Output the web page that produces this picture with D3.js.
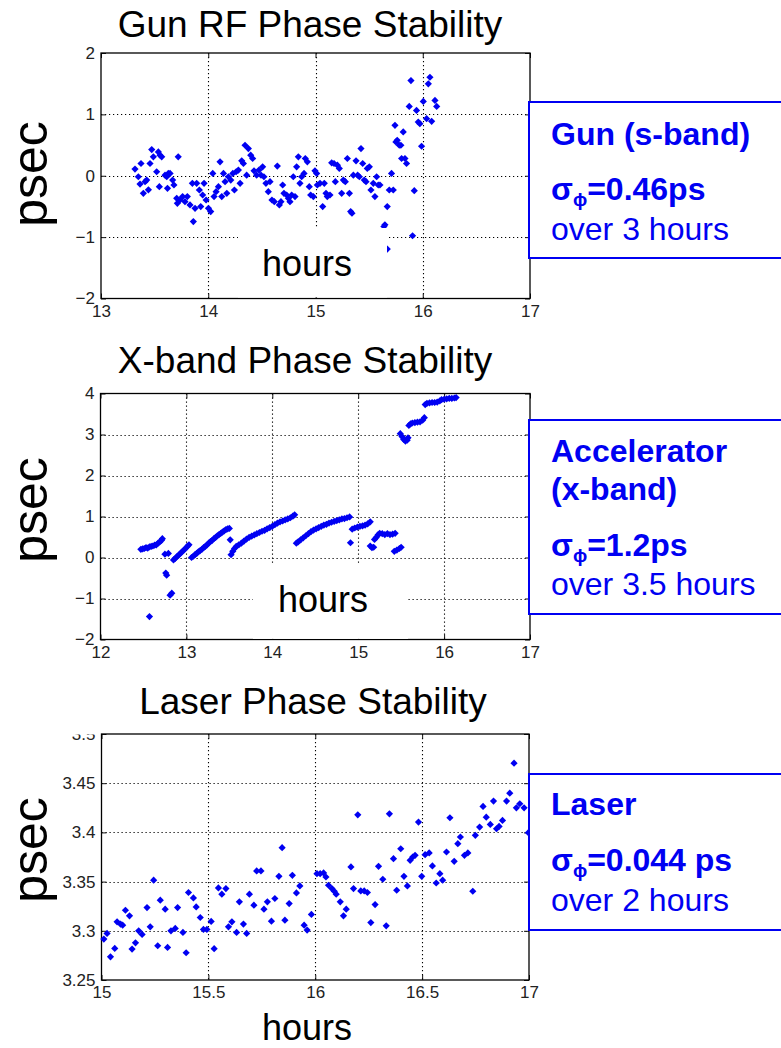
<!DOCTYPE html>
<html>
<head>
<meta charset="utf-8">
<script src="https://cdn.jsdelivr.net/npm/d3@7"></script>
<style>
  body { margin: 0; background: #fff; }
  svg { display: block; }
  text { font-family: "Liberation Sans", Arial, Helvetica, sans-serif; }
</style>
</head>
<body>
<svg id="chart" width="781" height="1048"></svg>
<script>
// ---- Gun RF phase (s-band), psec vs hours ----
const gunHours = [
  13.317,13.348,13.373,13.364,13.395,13.411,13.426,13.442,13.457,13.473,13.488,13.519,13.535,13.55,13.544,13.566,
  13.597,13.613,13.628,13.62,13.644,13.668,13.68,13.706,13.712,13.72,13.737,13.761,13.783,13.805,13.83,13.852,
  13.861,13.877,13.892,13.917,13.93,13.948,13.961,13.98,14.002,14.023,14.042,14.054,14.073,14.095,14.11,14.126,
  14.142,14.157,14.173,14.188,14.21,14.229,14.244,14.26,14.281,14.297,14.312,14.328,14.343,14.358,14.374,14.396,
  14.414,14.427,14.451,14.473,14.492,14.507,14.519,14.538,14.56,14.576,14.594,14.616,14.644,14.663,14.678,14.694,
  14.706,14.731,14.747,14.762,14.778,14.793,14.809,14.824,14.84,14.855,14.871,14.893,14.905,14.924,14.942,14.955,
  14.98,14.995,15.011,15.017,15.042,15.067,15.082,15.098,15.11,15.135,15.151,15.173,15.185,15.204,15.222,15.244,
  15.26,15.278,15.297,15.316,15.328,15.34,15.353,15.378,15.393,15.409,15.424,15.44,15.455,15.471,15.483,15.502,
  15.517,15.539,15.554,15.57,15.585,15.601,15.638,15.647,15.669,15.669,15.688,15.709,15.725,15.741,15.75,15.762,
  15.781,15.796,15.803,15.818,15.834,15.849,15.874,15.89,15.905,15.921,15.942,15.958,15.973,15.989,16.005,16.036,
  16.052,16.067,16.083,16.114,16.13
];
const gunPsec = [
  0.108,-0.016,0.2,-0.135,-0.286,-0.097,-0.07,-0.23,0.2,0.427,0.308,0.065,0.389,0.335,-0.178,0.308,
  0.01,-0.016,0.038,-0.205,0.038,-0.07,-0.151,-0.368,-0.449,0.308,-0.395,-0.34,-0.422,-0.34,-0.476,-0.124,
  -0.746,-0.53,-0.124,-0.232,-0.503,-0.314,-0.124,-0.395,-0.53,-0.584,0.038,-0.34,-0.259,-0.178,0.227,-0.34,
  0.038,-0.097,-0.286,-0.016,-0.07,0.038,-0.232,0.065,0.092,-0.124,0.243,0.2,0.497,0.01,0.443,0.335,
  0.281,0.081,0.01,0.092,0.01,0.146,-0.016,-0.124,-0.259,-0.097,-0.395,-0.422,0.157,-0.476,-0.422,-0.151,
  -0.286,-0.314,-0.368,-0.422,-0.314,-0.016,-0.34,0.146,0.308,-0.124,-0.016,0.038,0.281,0.227,-0.178,-0.314,
  -0.34,0.081,0.038,-0.151,-0.124,-0.503,-0.124,-0.286,-0.34,-0.314,0.211,0.2,-0.097,0.173,0.119,-0.286,
  -0.07,-0.097,0.281,-0.286,-0.584,-0.611,0.01,0.243,0.01,-0.016,0.443,0.2,-0.07,-0.097,0.119,0.146,
  -0.232,-0.124,-0.34,-0.016,-0.151,-0.151,-0.827,-0.8,-0.503,-1.195,-0.232,0.038,-0.232,0.822,0.551,0.578,
  0.497,0.497,0.281,0.714,0.281,0.2,1.13,1.551,-0.978,-0.243,1.065,0.876,0.849,0.481,1.211,0.93,
  1.497,1.605,0.886,1.227,1.13
];
const gunXTicks = [13, 14, 15, 16, 17];
const gunYTicks = [-2, -1, 0, 1, 2];

// ---- X-band accelerator phase, psec vs hours ----
const xbandHours = [
  12.47,12.49,12.51,12.53,12.55,12.57,12.59,12.61,12.63,12.65,12.67,12.69,12.71,12.72,
  12.57,12.75,12.79,12.76,12.77,12.81,12.83,
  12.85,12.87,12.89,12.91,12.93,12.95,12.97,12.99,13.01,13.03,
  13.06,13.08,13.10,13.12,13.14,13.16,13.18,13.20,13.22,13.24,13.26,13.28,13.30,13.32,13.34,13.36,13.38,13.40,13.42,13.44,13.46,13.48,13.50,
  13.51,
  13.52,13.54,13.56,13.58,13.61,13.64,13.67,13.70,13.73,13.76,13.79,13.82,13.85,13.88,13.91,13.94,13.97,14.00,14.03,14.06,14.09,14.12,14.15,14.18,14.21,14.24,14.26,
  14.28,14.30,14.33,14.36,14.39,14.42,14.45,14.48,14.51,14.54,14.57,14.60,14.63,14.66,14.69,14.72,14.75,14.78,14.81,14.84,14.87,14.90,
  14.91,
  14.93,14.96,14.99,15.02,15.05,15.08,15.11,15.14,
  15.14,15.16,15.18,
  15.19,15.21,15.23,15.25,15.28,15.31,15.34,15.37,15.40,15.43,
  15.42,15.45,15.48,15.50,
  15.49,15.51,15.53,15.55,15.57,15.58,
  15.59,15.61,15.63,15.66,15.69,15.72,15.75,15.77,
  15.78,15.80,15.83,15.86,15.89,15.92,15.95,
  15.97,16.00,16.03,16.06,16.09,16.12,16.14
];
const xbandPsec = [
  0.20,0.21,0.22,0.24,0.23,0.26,0.27,0.28,0.30,0.31,0.35,0.38,0.42,0.46,
  -1.44,0.08,0.10,-0.38,-0.43,-0.92,-0.87,
  -0.06,-0.02,0.02,0.06,0.10,0.14,0.18,0.22,0.27,0.31,
  0.00,0.03,0.07,0.10,0.14,0.17,0.20,0.24,0.27,0.31,0.35,0.39,0.42,0.46,0.49,0.53,0.56,0.59,0.62,0.65,0.68,0.70,0.71,
  0.43,
  0.07,0.15,0.22,0.27,0.31,0.35,0.40,0.45,0.49,0.52,0.55,0.58,0.61,0.64,0.66,0.70,0.73,0.76,0.80,0.84,0.87,0.89,0.92,0.94,0.97,1.01,1.04,
  0.35,0.38,0.43,0.48,0.53,0.58,0.63,0.67,0.70,0.73,0.76,0.79,0.81,0.84,0.86,0.88,0.90,0.92,0.94,0.95,0.97,0.99,
  0.36,
  0.69,0.72,0.74,0.76,0.77,0.79,0.82,0.87,
  0.28,0.24,0.25,
  0.44,0.49,0.55,0.59,0.58,0.56,0.58,0.56,0.57,0.59,
  0.15,0.18,0.22,0.25,
  3.02,2.95,2.88,2.84,2.86,2.92,
  3.22,3.26,3.28,3.29,3.30,3.31,3.35,3.41,
  3.73,3.76,3.77,3.78,3.78,3.79,3.82,
  3.85,3.86,3.87,3.88,3.88,3.89,3.90
];
const xbandXTicks = [12, 13, 14, 15, 16, 17];
const xbandYTicks = [-2, -1, 0, 1, 2, 3, 4];

// ---- Laser phase, psec vs hours ----
const laserHours = [
  15.011,15.026,15.042,15.062,15.073,15.089,15.099,15.112,15.131,15.143,15.159,15.174,15.19,15.213,15.228,15.244,
  15.263,15.275,15.298,15.309,15.325,15.345,15.356,15.381,15.396,15.407,15.43,15.443,15.462,15.477,15.493,15.513,
  15.527,15.547,15.563,15.582,15.594,15.61,15.632,15.645,15.664,15.679,15.692,15.713,15.726,15.746,15.76,15.776,
  15.795,15.811,15.83,15.845,15.858,15.878,15.893,15.912,15.928,15.948,15.962,15.982,16.008,16.023,16.039,16.05,
  16.062,16.078,16.089,16.098,16.117,16.132,16.145,16.167,16.179,16.199,16.213,16.229,16.244,16.26,16.28,16.296,
  16.316,16.332,16.347,16.366,16.381,16.4,16.415,16.431,16.444,16.456,16.467,16.483,16.498,16.514,16.533,16.548,
  16.566,16.583,16.596,16.614,16.63,16.65,16.667,16.679,16.698,16.714,16.737,16.749,16.769,16.785,16.8,16.819,
  16.834,16.848,16.86,16.876,16.895,16.91,16.93,16.941,16.957,16.977,16.997
];
const laserPsec = [
  3.2916,3.2973,3.2736,3.2821,3.3091,3.3068,3.3057,3.3209,3.3152,3.2814,3.2878,3.3,3.2963,3.3236,3.304,3.3514,
  3.2848,3.3311,3.322,3.2831,3.3,3.3024,3.3236,3.2983,3.2777,3.3389,3.3334,3.3243,3.3135,3.3014,3.3014,3.3095,
  3.2818,3.3436,3.3372,3.3429,3.304,3.3091,3.2983,3.3294,3.3068,3.2973,3.3372,3.326,3.3608,3.3608,3.322,3.3294,
  3.3098,3.3328,3.3554,3.3845,3.3108,3.3277,3.3564,3.3385,3.3456,3.3057,3.3007,3.3166,3.3581,3.3581,3.3588,3.3547,
  3.3463,3.3429,3.3402,3.3372,3.3294,3.3152,3.322,3.3649,3.3429,3.4179,3.3405,3.3405,3.3389,3.3084,3.3267,3.3655,
  3.3524,3.3051,3.4189,3.3733,3.3412,3.3834,3.3554,3.3456,3.3716,3.375,3.3767,3.4105,3.3554,3.3774,3.3791,3.3659,
  3.3486,3.3581,3.3514,3.3801,3.4149,3.3706,3.3885,3.3953,3.3767,3.3791,3.3402,3.397,3.4054,3.4264,3.4155,3.4081,
  3.4318,3.4037,3.4061,3.4122,3.4318,3.4399,3.4703,3.425,3.4291,3.425,3.3997
];
const laserXTicks = [15, 15.5, 16, 16.5, 17];
const laserYTicks = [3.25, 3.3, 3.35, 3.4, 3.45, 3.5];

const BLUE = "#0000f2";
const svg = d3.select("#chart");

// small filled diamond marker
const diamond = "M0,-3.6L3.6,0L0,3.6L-3.6,0Z";

const panels = [
  {
    title: "Gun RF Phase Stability", titleX: 310, titleY: 37,
    hours: gunHours, psec: gunPsec, xTicks: gunXTicks, yTicks: gunYTicks,
    xDomain: [13, 17], yDomain: [-2, 2],
    left: 101, right: 530, top: 53, bottom: 298.5, psecY: 174,
    hoursBox: { x0: 238, x1: 387, y0: 228, y1: 297.4 }, hoursX: 307, hoursY: 276,
    fmt: d3.format("d"),
    legend: { y: 102, h: 156, lines: [
      { t: "Gun (s-band)", y: 145, bold: true },
      { sigma: "=0.46ps", y: 200 },
      { t: "over 3 hours", y: 240, bold: false }
    ] }
  },
  {
    title: "X-band Phase Stability", titleX: 305, titleY: 373,
    hours: xbandHours, psec: xbandPsec, xTicks: xbandXTicks, yTicks: xbandYTicks,
    xDomain: [12, 17], yDomain: [-2, 4],
    left: 100.5, right: 530, top: 393.5, bottom: 639.5, psecY: 510,
    hoursBox: { x0: 253, x1: 408, y0: 564, y1: 638.9 }, hoursX: 323, hoursY: 612,
    fmt: d3.format("d"),
    legend: { y: 420, h: 194, lines: [
      { t: "Accelerator", y: 462, bold: true },
      { t: "(x-band)", y: 500, bold: true },
      { sigma: "=1.2ps", y: 556 },
      { t: "over 3.5 hours", y: 595, bold: false }
    ] }
  },
  {
    title: "Laser Phase Stability", titleX: 313, titleY: 714,
    hours: laserHours, psec: laserPsec, xTicks: laserXTicks, yTicks: laserYTicks,
    xDomain: [15, 17], yDomain: [3.25, 3.5],
    left: 101.5, right: 529, top: 734, bottom: 980, psecY: 850,
    hoursBox: { x0: 232, x1: 388, y0: 998, y1: 1048 }, hoursX: 307, hoursY: 1040,
    fmt: d => String(+d.toFixed(2)),
    topCover: true,
    legend: { y: 774, h: 156, lines: [
      { t: "Laser", y: 815, bold: true },
      { sigma: "=0.044 ps", y: 871 },
      { t: "over 2 hours", y: 911, bold: false }
    ] }
  }
];

function drawPanel(p) {
  const g = svg.append("g");
  const x = d3.scaleLinear().domain(p.xDomain).range([p.left, p.right]);
  const y = d3.scaleLinear().domain(p.yDomain).range([p.bottom, p.top]);
  const w = p.right - p.left, h = p.bottom - p.top;

  // dotted grid at interior ticks
  const grid = g.append("g").attr("stroke", "#000").attr("stroke-width", 1.1)
    .attr("stroke-dasharray", "1.2,2.8");
  grid.selectAll("line.gx").data(p.xTicks.slice(1, -1)).join("line")
    .attr("x1", d => Math.round(x(d)) + 0.5).attr("x2", d => Math.round(x(d)) + 0.5)
    .attr("y1", p.top).attr("y2", p.bottom);
  grid.selectAll("line.gy").data(p.yTicks.slice(1, -1)).join("line")
    .attr("y1", d => Math.round(y(d)) + 0.5).attr("y2", d => Math.round(y(d)) + 0.5)
    .attr("x1", p.left).attr("x2", p.right);

  // inward ticks on all four sides, labels on bottom and left
  const bottomAx = g.append("g").attr("transform", `translate(0,${p.bottom})`)
    .call(d3.axisBottom(x).tickValues(p.xTicks).tickSizeInner(-5).tickSizeOuter(0)
      .tickPadding(6).tickFormat(p.fmt));
  const leftAx = g.append("g").attr("transform", `translate(${p.left},0)`)
    .call(d3.axisLeft(y).tickValues(p.yTicks).tickSizeInner(-5).tickSizeOuter(0)
      .tickPadding(6).tickFormat(p.fmt));
  g.append("g").attr("transform", `translate(0,${p.top})`)
    .call(d3.axisTop(x).tickValues(p.xTicks).tickSizeInner(-5).tickSizeOuter(0).tickFormat(""));
  g.append("g").attr("transform", `translate(${p.right},0)`)
    .call(d3.axisRight(y).tickValues(p.yTicks).tickSizeInner(-5).tickSizeOuter(0).tickFormat(""));
  g.selectAll(".domain").remove();
  g.selectAll(".tick line").attr("stroke", "#111");
  [bottomAx, leftAx].forEach(a => a.selectAll("text")
    .attr("font-size", 17).attr("fill", "#222")
    .style("font-family", "'Liberation Sans', Arial, sans-serif"));

  // axes box
  g.append("rect").attr("x", p.left).attr("y", p.top).attr("width", w).attr("height", h)
    .attr("fill", "none").attr("stroke", "#000").attr("stroke-width", 1.3);

  // data markers
  g.append("g").attr("fill", BLUE)
    .selectAll("path").data(d3.zip(p.hours, p.psec)).join("path")
    .attr("d", diamond)
    .attr("transform", d => `translate(${x(d[0])},${y(d[1])})`);

  // text box behind the "hours" caption
  const hb = p.hoursBox;
  g.append("rect").attr("x", hb.x0).attr("y", hb.y0)
    .attr("width", hb.x1 - hb.x0).attr("height", hb.y1 - hb.y0).attr("fill", "#fff");
  g.append("text").attr("x", p.hoursX).attr("y", p.hoursY)
    .attr("text-anchor", "middle").attr("font-size", 36).attr("fill", "#000").text("hours");

  // title box overlaps the topmost tick label on the laser plot
  if (p.topCover) {
    g.append("rect").attr("x", 55).attr("y", 690).attr("width", 45).attr("height", 44.5).attr("fill", "#fff");
  }

  g.append("text").attr("x", p.titleX).attr("y", p.titleY).attr("text-anchor", "middle")
    .attr("font-size", 37).attr("fill", "#000").text(p.title);

  g.append("text").attr("transform", `translate(47,${p.psecY}) rotate(-90)`)
    .attr("text-anchor", "middle").attr("font-size", 50).attr("fill", "#000").text("psec");

  // annotation box
  const L = p.legend;
  g.append("rect").attr("x", 529).attr("y", L.y).attr("width", 270).attr("height", L.h)
    .attr("fill", "#fff").attr("stroke", BLUE).attr("stroke-width", 2);
  L.lines.forEach(ln => {
    const t = g.append("text").attr("x", 551).attr("y", ln.y).attr("fill", BLUE).attr("font-size", 32);
    if (ln.sigma) {
      t.attr("font-weight", "bold");
      t.append("tspan").text("σ");
      t.append("tspan").attr("font-size", 19).attr("dy", 6).text("ϕ");
      t.append("tspan").attr("dy", -6).text(ln.sigma);
    } else {
      t.attr("font-weight", ln.bold ? "bold" : "normal").text(ln.t);
    }
  });
}

panels.forEach(drawPanel);
</script>
</body>
</html>
